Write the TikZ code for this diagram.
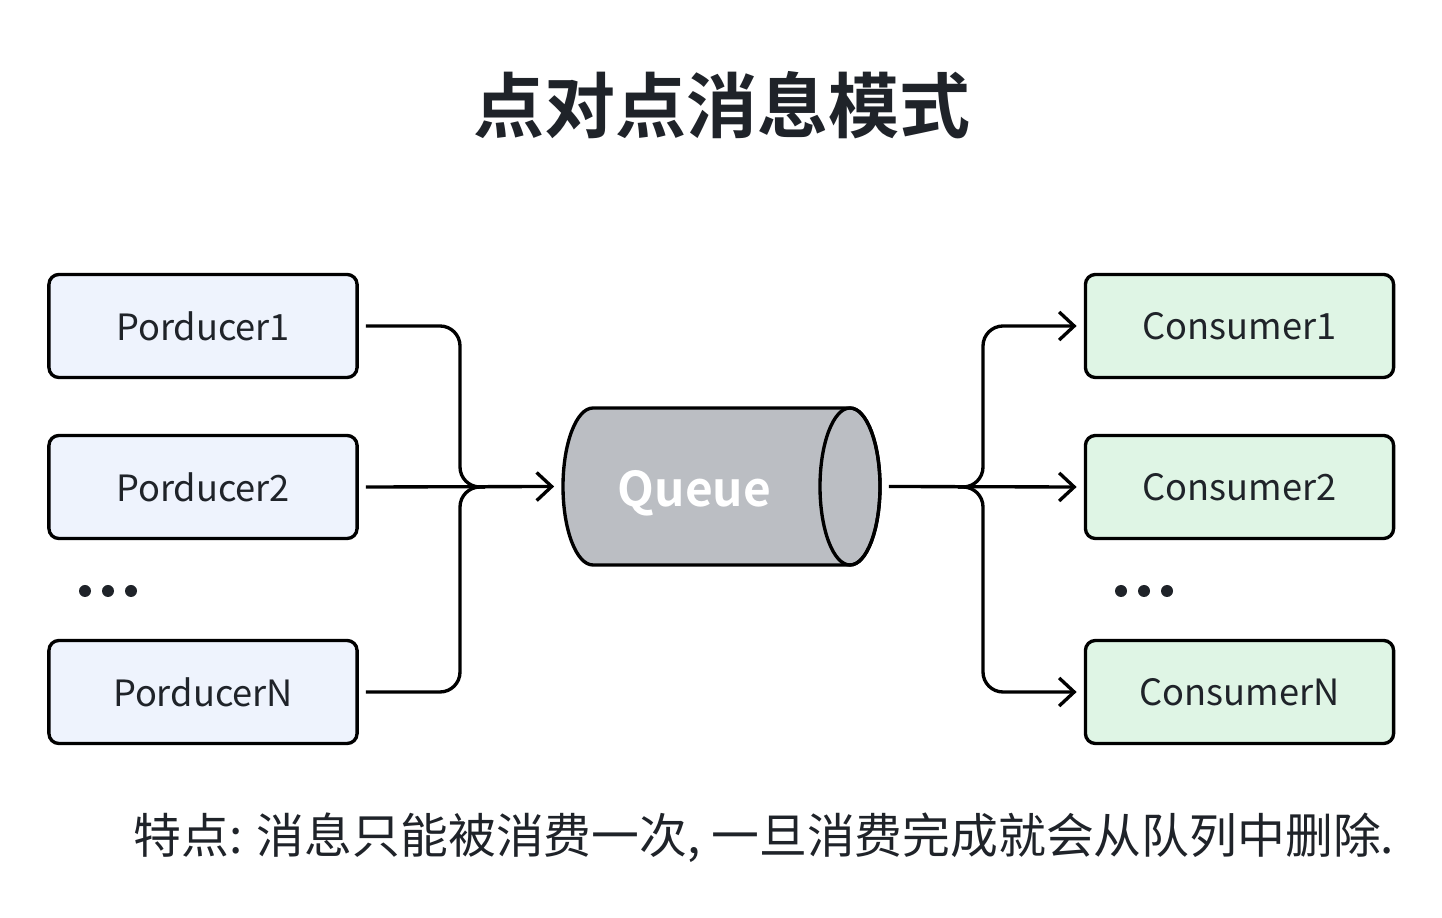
\documentclass[tikz,border=0pt]{standalone}
\usepackage{fontspec}
\setmainfont{Noto Sans CJK SC}[BoldFont={Noto Sans CJK SC Bold}]
\usetikzlibrary{arrows.meta}
\definecolor{ink}{HTML}{1F2329}
\definecolor{prodfill}{HTML}{EEF3FD}
\definecolor{consfill}{HTML}{DFF5E5}
\definecolor{queuefill}{HTML}{BBBEC3}
\tikzset{
  box/.style = {draw=black, line width=0.95pt, rounded corners=0.1cm, minimum width=3.08cm, minimum height=1.03cm, text=ink, font=\fontsize{10.3}{12}\selectfont, outer sep=2.5pt},
  prod/.style = {box, fill=prodfill},
  cons/.style = {box, fill=consfill},
  link/.style = {draw=black, line width=0.95pt, rounded corners=0.2cm},
  tip/.style = {-{Straight Barb[length=0.15cm, width=0.28cm]}}
}
\begin{document}
\begin{tikzpicture}[x=0.01cm, y=0.01cm]
\useasboundingbox (0,0) rectangle (1442,918);
\node [at = {(722,813)}, text=ink, font=\fontsize{20.2}{24}\bfseries] (title) {点对点消息模式};
% producers
\node [prod, at = {(203,592)}] (p1) {Porducer1};
\node [prod, at = {(203,431)}] (p2) {Porducer2};
\node [prod, at = {(203,226)}] (pN) {PorducerN};
\foreach \x in {85,108,131} \fill [ink] (\x,327) circle [radius=6];
% queue
\filldraw [draw=black, fill=queuefill, line width=0.95pt] (593,510) arc [start angle=90, end angle=270, x radius=30, y radius=78.5] -- (850,353) arc [start angle=-90, end angle=90, x radius=30, y radius=78.5] -- cycle;
\draw [draw=black, line width=0.95pt] (850,431.5) ellipse [x radius=30, y radius=78.5];
\node [at = {(721.5,431.5)}, minimum width=3.17cm, minimum height=1.57cm, outer sep=2.5pt, label={[text=white, font=\fontsize{13.6}{16}\bfseries, xshift=-0.27cm, yshift=-0.07cm]center:Queue}] (q) {};
% consumers
\node [cons, at = {(1239.5,592)}] (c1) {Consumer1};
\node [cons, at = {(1239.5,431)}] (c2) {Consumer2};
\node [cons, at = {(1239.5,226)}] (cN) {ConsumerN};
\foreach \x in {1121,1144,1167} \fill [ink] (\x,327) circle [radius=6];
% connectors
\coordinate (jl) at (460,431);
\coordinate (jr) at (983,431);
\draw [link] (p1.east) -| (jl) -- ([xshift=0.25cm]jl);
\draw [link] (pN.east) -| (jl) -- ([xshift=0.25cm]jl);
\draw [link, tip] (p2.east) -- (q.west);
\draw [link, tip] (q.east) -- (c2.west);
\draw [link, tip] ([xshift=-0.25cm]jr) -- (jr) |- (c1.west);
\draw [link, tip] ([xshift=-0.25cm]jr) -- (jr) |- (cN.west);
\node [at = {(764,80)}, text=ink, font=\fontsize{13.6}{16}\selectfont] (note) {特点: 消息只能被消费一次, 一旦消费完成就会从队列中删除.};
\end{tikzpicture}
\end{document}
